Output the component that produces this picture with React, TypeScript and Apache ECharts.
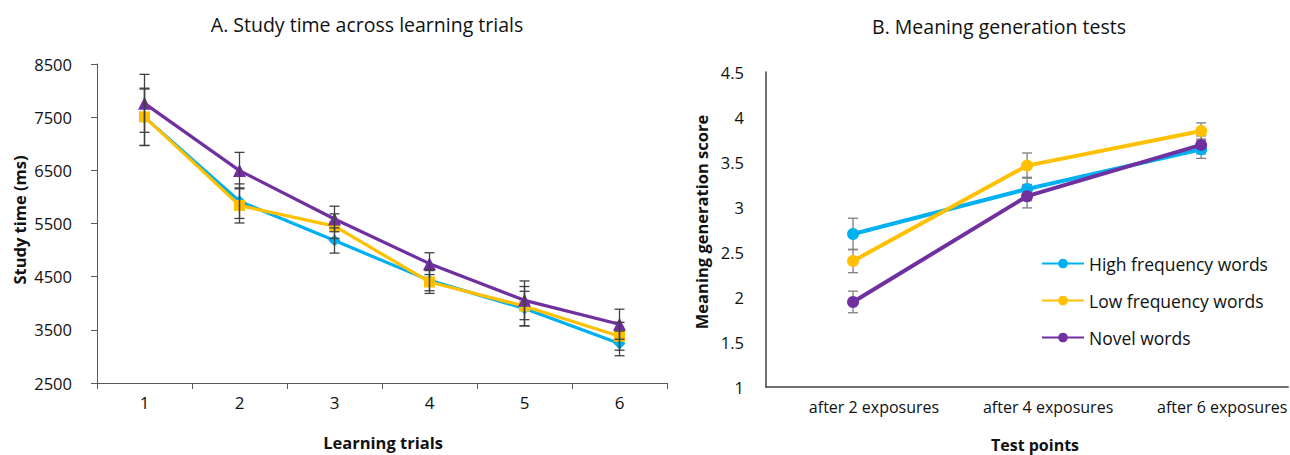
import React, { useEffect, useRef } from "react";
import * as echarts from "echarts";

// ---------- Data ----------
const trials = ["1", "2", "3", "4", "5", "6"];
const studyTicks = [2500, 3500, 4500, 5500, 6500, 7500, 8500];

const highA = [7500, 5920, 5180, 4430, 3900, 3245];
const highAErr = [530, 325, 237, 195, 325, 232];
const lowA = [7505, 5840, 5450, 4400, 3945, 3380];
const lowAErr = [540, 330, 231, 215, 370, 262];
const novelA = [7760, 6495, 5585, 4745, 4055, 3605];
const novelAErr = [545, 343, 240, 205, 364, 283];

const testPoints = ["after 2 exposures", "after 4 exposures", "after 6 exposures"];
const highB = [2.7, 3.2, 3.64];
const highBErr = [0.175, 0.13, 0.1];
const lowB = [2.4, 3.46, 3.845];
const lowBErr = [0.13, 0.14, 0.09];
const novelB = [1.945, 3.12, 3.69];
const novelBErr = [0.12, 0.13, 0.1];

const seriesNames = ["High frequency words", "Low frequency words", "Novel words"];

const BLUE = "#00B0F0";
const YELLOW = "#FFC000";
const PURPLE = "#7030A0";
const FONT = "Open Sans";
const TEXT = "#111111";

function errorSeries(
  name: string,
  values: number[],
  errs: number[],
  axisIndex: number,
  color: string,
  capHalf: number,
  width: number
) {
  return {
    type: "custom",
    name,
    xAxisIndex: axisIndex,
    yAxisIndex: axisIndex,
    z: 10,
    silent: true,
    data: values.map((v, i) => [i, v - errs[i], v + errs[i]]),
    encode: { x: 0, y: [1, 2] },
    renderItem: (_params: any, api: any) => {
      const lo = api.coord([api.value(0), api.value(1)]);
      const hi = api.coord([api.value(0), api.value(2)]);
      const st = { stroke: color, lineWidth: width };
      return {
        type: "group",
        children: [
          { type: "line", shape: { x1: lo[0], y1: lo[1], x2: hi[0], y2: hi[1] }, style: st },
          { type: "line", shape: { x1: lo[0] - capHalf, y1: lo[1], x2: lo[0] + capHalf, y2: lo[1] }, style: st },
          { type: "line", shape: { x1: hi[0] - capHalf, y1: hi[1], x2: hi[0] + capHalf, y2: hi[1] }, style: st },
        ],
      };
    },
  };
}

function lineSeries(
  name: string,
  values: number[],
  axisIndex: number,
  color: string,
  symbol: string,
  symbolSize: number,
  width: number,
  z: number
) {
  return {
    type: "line",
    name,
    xAxisIndex: axisIndex,
    yAxisIndex: axisIndex,
    data: values,
    symbol,
    symbolSize,
    z,
    lineStyle: { color, width },
    itemStyle: { color, borderWidth: 0 },
    emphasis: { disabled: true },
  };
}

export default function App() {
  const ref = useRef<HTMLDivElement>(null);

  useEffect(() => {
    if (!ref.current) return;
    const chart = echarts.init(ref.current, undefined, { renderer: "svg" });
    const axisColorA = "#595959";
    const axisColorB = "#404040";
    const labelStyle = { color: TEXT, fontSize: 16, fontFamily: FONT };

    chart.setOption({
      animation: false,
      backgroundColor: "#ffffff",
      textStyle: { fontFamily: FONT },
      title: [
        {
          text: "A. Study time across learning trials",
          left: 362,
          top: 9,
          textAlign: "center",
          textStyle: { fontSize: 19.5, fontWeight: "normal", color: TEXT, fontFamily: FONT },
        },
        {
          text: "B. Meaning generation tests",
          left: 994,
          top: 11,
          textAlign: "center",
          textStyle: { fontSize: 19.5, fontWeight: "normal", color: TEXT, fontFamily: FONT },
        },
      ],
      grid: [
        { left: 97, top: 64, width: 570, height: 319 },
        { left: 766, top: 72, width: 524, height: 315 },
      ],
      xAxis: [
        {
          type: "category",
          gridIndex: 0,
          data: trials,
          boundaryGap: true,
          axisLine: { lineStyle: { color: axisColorA, width: 1 } },
          axisTick: { show: true, length: 6, lineStyle: { color: axisColorA } },
          axisLabel: { ...labelStyle, fontSize: 17, margin: 11 },
          splitLine: { show: false },
        },
        {
          type: "category",
          gridIndex: 1,
          data: testPoints,
          boundaryGap: true,
          axisLine: { lineStyle: { color: axisColorB, width: 1.5 } },
          axisTick: { show: false },
          axisLabel: { ...labelStyle, fontSize: 16, margin: 12, padding: [0, 0, 0, 42] },
          splitLine: { show: false },
        },
      ],
      yAxis: [
        {
          type: "value",
          gridIndex: 0,
          min: 2500,
          max: 8500,
          axisLine: { show: true, lineStyle: { color: axisColorA, width: 1 } },
          axisTick: { show: true, length: 6, lineStyle: { color: axisColorA }, customValues: studyTicks },
          axisLabel: {
            ...labelStyle,
            fontSize: 16.5,
            margin: 25,
            customValues: studyTicks,
            formatter: (v: number) => String(v),
          },
          splitLine: { show: false },
        },
        {
          type: "value",
          gridIndex: 1,
          min: 1,
          max: 4.5,
          interval: 0.5,
          axisLine: { show: true, lineStyle: { color: axisColorB, width: 1.5 } },
          axisTick: { show: false },
          axisLabel: { ...labelStyle, fontSize: 16.5, margin: 22, formatter: (v: number) => String(v) },
          splitLine: { show: false },
        },
      ],
      legend: {
        data: seriesNames,
        orient: "vertical",
        left: 1036,
        top: 247,
        itemWidth: 42,
        itemHeight: 12,
        itemGap: 14,
        textStyle: { fontSize: 17.5, color: TEXT, fontFamily: FONT, lineHeight: 23 },
        selectedMode: false,
      },
      graphic: [
        {
          type: "text",
          x: 383,
          y: 442,
          style: {
            text: "Learning trials",
            fill: TEXT,
            font: `bold 16.5px "${FONT}"`,
            align: "center",
            verticalAlign: "middle",
          },
        },
        {
          type: "text",
          x: 1035,
          y: 445,
          style: {
            text: "Test points",
            fill: TEXT,
            font: `bold 16px "${FONT}"`,
            align: "center",
            verticalAlign: "middle",
          },
        },
        {
          type: "text",
          x: 19,
          y: 220,
          rotation: Math.PI / 2,
          style: {
            text: "Study time (ms)",
            fill: TEXT,
            font: `bold 16.5px "${FONT}"`,
            align: "center",
            verticalAlign: "middle",
          },
        },
        {
          type: "text",
          x: 701,
          y: 222,
          rotation: Math.PI / 2,
          style: {
            text: "Meaning generation score",
            fill: TEXT,
            font: `bold 16.5px "${FONT}"`,
            align: "center",
            verticalAlign: "middle",
          },
        },
      ],
      series: [
        lineSeries("A " + seriesNames[0], highA, 0, BLUE, "diamond", 12, 3.2, 2),
        lineSeries("A " + seriesNames[1], lowA, 0, YELLOW, "rect", 11, 3.2, 3),
        lineSeries("A " + seriesNames[2], novelA, 0, PURPLE, "triangle", 13, 3.2, 4),
        errorSeries("eA1", highA, highAErr, 0, "#404040", 5, 1.3),
        errorSeries("eA2", lowA, lowAErr, 0, "#404040", 5, 1.3),
        errorSeries("eA3", novelA, novelAErr, 0, "#404040", 5, 1.3),
        errorSeries("eB1", highB, highBErr, 1, "#7f7f7f", 5, 1.3),
        errorSeries("eB2", lowB, lowBErr, 1, "#7f7f7f", 5, 1.3),
        errorSeries("eB3", novelB, novelBErr, 1, "#7f7f7f", 5, 1.3),
        lineSeries(seriesNames[0], highB, 1, BLUE, "circle", 12, 4, 12),
        lineSeries(seriesNames[1], lowB, 1, YELLOW, "circle", 12, 4, 13),
        lineSeries(seriesNames[2], novelB, 1, PURPLE, "circle", 12, 4, 14),
      ],
    });

    return () => chart.dispose();
  }, []);

  return (
    <div
      ref={ref}
      style={{ position: "fixed", left: 0, top: 0, width: 1290, height: 455, background: "#fff" }}
    />
  );
}
